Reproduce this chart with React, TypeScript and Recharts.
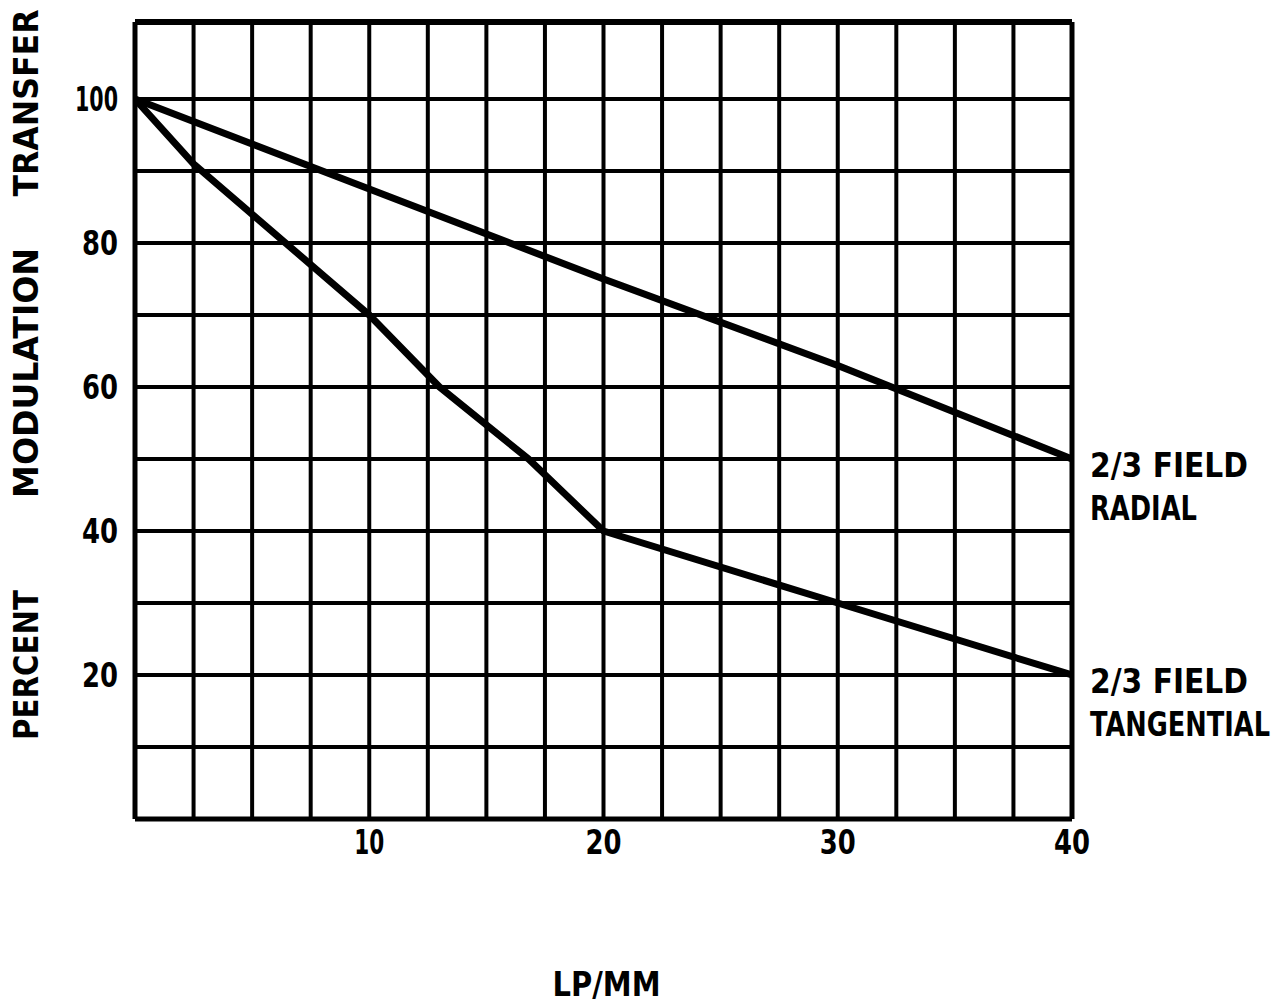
import React from 'react';
import { LineChart, Line, XAxis, YAxis, ReferenceLine, Label } from 'recharts';

// values
const radialLp = [0, 10, 20, 30, 40];
const radialPct = [100, 87.5, 75, 63, 50];
const tangentialLp = [0, 2.5, 10, 13, 16.8, 20, 30, 40];
const tangentialPct = [100, 91, 70, 60, 50, 40, 30, 20];

const xTicks = [10, 20, 30, 40];
const yTicks = [20, 40, 60, 80, 100];
const gridX = [0, 2.5, 5, 7.5, 10, 12.5, 15, 17.5, 20, 22.5, 25, 27.5, 30, 32.5, 35, 37.5, 40];
const gridY = [0, 10, 20, 30, 40, 50, 60, 70, 80, 90, 100];
const yTop = 110.7;

const radialLabel = ['2/3 FIELD', 'RADIAL'];
const tangentialLabel = ['2/3 FIELD', 'TANGENTIAL'];

const radialData = radialLp.map((lp, i) => ({ lp, pct: radialPct[i] }));
const tangentialData = tangentialLp.map((lp, i) => ({ lp, pct: tangentialPct[i] }));

// no narrow font installed, so squeeze DejaVu with textLength
const FONT = '"DejaVu Sans", sans-serif';
const widthOf: Record<string, number> = {
  '2/3 FIELD': 158,
  RADIAL: 107,
  TANGENTIAL: 180,
  TRANSFER: 187,
  MODULATION: 250,
  PERCENT: 150,
  'LP/MM': 108,
  '10': 30,
  '100': 43,
};
const w = (t: string) => widthOf[t] ?? t.length * 18;

const Txt = (p: any) => (
  <text
    fontFamily={FONT}
    fontWeight={700}
    fontSize={34}
    fill="#000"
    textLength={w(p.children)}
    lengthAdjust="spacingAndGlyphs"
    {...p}
  />
);

const endLabel = (lines: string[], lastIndex: number) => (props: any) => {
  const { x, y, index } = props;
  if (index !== lastIndex) return <g />;
  return (
    <g>
      {lines.map((t, i) => (
        <Txt key={t} x={x + 18} y={y + 6 + i * 43} dominantBaseline="central">
          {t}
        </Txt>
      ))}
    </g>
  );
};

const yTitle = () => {
  const words = [
    { t: 'TRANSFER', cy: 103 },
    { t: 'MODULATION', cy: 373 },
    { t: 'PERCENT', cy: 665 },
  ];
  return (
    <g>
      {words.map((wd) => (
        <Txt
          key={wd.t}
          x={26}
          y={wd.cy}
          transform={`rotate(-90 26 ${wd.cy})`}
          textAnchor="middle"
          dominantBaseline="central"
        >
          {wd.t}
        </Txt>
      ))}
    </g>
  );
};

const xTitle = (props: any) => {
  const vb = props.viewBox || {};
  return (
    <Txt x={vb.x + vb.width / 2 + 3} y={984} textAnchor="middle" dominantBaseline="central">
      LP/MM
    </Txt>
  );
};

const XTick = (props: any) => {
  const { x, y, payload } = props;
  const t = String(payload.value);
  return (
    <Txt x={x} y={y} dy="0.71em" textAnchor="middle">
      {t}
    </Txt>
  );
};

const YTick = (props: any) => {
  const { x, y, payload } = props;
  const t = String(payload.value);
  return (
    <Txt x={x} y={y} dy="0.36em" textAnchor="end">
      {t}
    </Txt>
  );
};

export default function App() {
  return (
    <div style={{ position: 'absolute', left: 0, top: 0, background: '#fff' }}>
      <LineChart width={1288} height={1005} margin={{ top: 22, right: 216, bottom: 146, left: 0 }}>
        <XAxis
          type="number"
          dataKey="lp"
          domain={[0, 40]}
          ticks={xTicks}
          axisLine={false}
          tickLine={false}
          tickSize={0}
          tickMargin={11}
          height={40}
          tick={<XTick />}
          allowDataOverflow
        >
          <Label content={xTitle} />
        </XAxis>
        <YAxis
          type="number"
          dataKey="pct"
          domain={[0, yTop]}
          ticks={yTicks}
          axisLine={false}
          tickLine={false}
          tickSize={0}
          tickMargin={17}
          width={135}
          tick={<YTick />}
          allowDataOverflow
        >
          <Label content={yTitle} />
        </YAxis>
        {gridX.map((v) => (
          <ReferenceLine key={`gx${v}`} x={v} stroke="#000" strokeWidth={v === 0 || v === 40 ? 5 : 4} />
        ))}
        {gridY.map((v) => (
          <ReferenceLine key={`gy${v}`} y={v} stroke="#000" strokeWidth={v === 0 ? 5 : 4} />
        ))}
        <ReferenceLine y={yTop} stroke="#000" strokeWidth={6} />
        <Line
          data={radialData}
          dataKey="pct"
          stroke="#000"
          strokeWidth={7}
          strokeLinejoin="round"
          dot={false}
          isAnimationActive={false}
          label={endLabel(radialLabel, radialData.length - 1)}
        />
        <Line
          data={tangentialData}
          dataKey="pct"
          stroke="#000"
          strokeWidth={7}
          strokeLinejoin="round"
          dot={false}
          isAnimationActive={false}
          label={endLabel(tangentialLabel, tangentialData.length - 1)}
        />
      </LineChart>
    </div>
  );
}
